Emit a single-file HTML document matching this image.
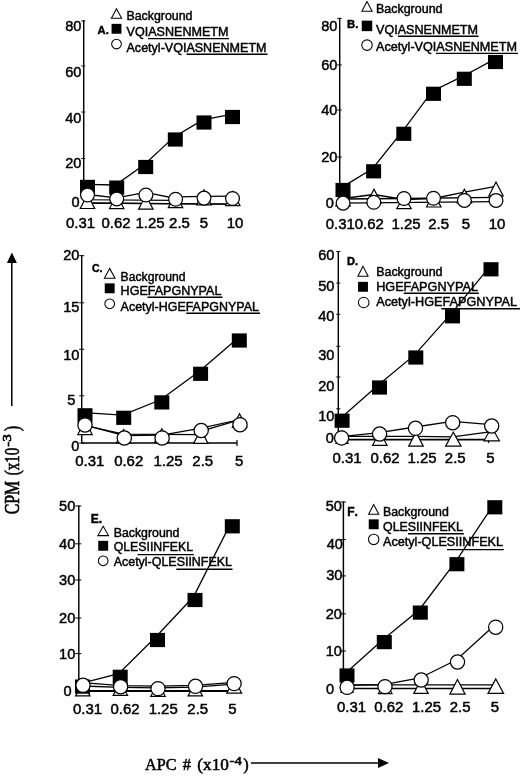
<!DOCTYPE html>
<html lang="en">
<head>
<meta charset="utf-8">
<title>Figure</title>
<style>
html,body{margin:0;padding:0;background:#fff;}
body{width:520px;height:776px;overflow:hidden;}
svg{display:block;filter:blur(0.35px);}
svg text{fill:#000;stroke:#000;stroke-width:0.45px;}
svg .sf text{stroke-width:0.5px;}
</style>
</head>
<body>
<svg width="520" height="776" viewBox="0 0 520 776">
<rect width="520" height="776" fill="#fff"/>
<line x1="83.70" y1="20.00" x2="83.70" y2="203.50" stroke="#000" stroke-width="1.45"/>
<line x1="83.70" y1="203.00" x2="232.50" y2="204.10" stroke="#000" stroke-width="1.40"/>
<polyline fill="none" stroke="#000" stroke-width="1.15" points="83.70,199.80 175.50,200.40"/>
<line x1="81.30" y1="21.00" x2="85.20" y2="21.00" stroke="#000" stroke-width="1.00"/>
<line x1="81.30" y1="66.00" x2="85.20" y2="66.00" stroke="#000" stroke-width="1.00"/>
<line x1="81.30" y1="112.00" x2="85.20" y2="112.00" stroke="#000" stroke-width="1.00"/>
<line x1="81.30" y1="158.50" x2="85.20" y2="158.50" stroke="#000" stroke-width="1.00"/>
<text x="81.50" y="30.80" font-size="14.30" text-anchor="end" font-weight="normal" font-family='"Liberation Sans", Arial, Helvetica, sans-serif' textLength="16.22" lengthAdjust="spacingAndGlyphs">80</text>
<text x="81.50" y="76.50" font-size="14.30" text-anchor="end" font-weight="normal" font-family='"Liberation Sans", Arial, Helvetica, sans-serif' textLength="16.22" lengthAdjust="spacingAndGlyphs">60</text>
<text x="81.50" y="122.50" font-size="14.30" text-anchor="end" font-weight="normal" font-family='"Liberation Sans", Arial, Helvetica, sans-serif' textLength="16.22" lengthAdjust="spacingAndGlyphs">40</text>
<text x="81.50" y="168.30" font-size="14.30" text-anchor="end" font-weight="normal" font-family='"Liberation Sans", Arial, Helvetica, sans-serif' textLength="16.22" lengthAdjust="spacingAndGlyphs">20</text>
<text x="79.60" y="206.60" font-size="14.30" text-anchor="end" font-weight="normal" font-family='"Liberation Sans", Arial, Helvetica, sans-serif' textLength="8.11" lengthAdjust="spacingAndGlyphs">0</text>
<text x="80.50" y="228.00" font-size="14.00" text-anchor="middle" font-weight="normal" font-family='"Liberation Sans", Arial, Helvetica, sans-serif' textLength="29.15" lengthAdjust="spacingAndGlyphs">0.31</text>
<text x="116.00" y="228.00" font-size="14.00" text-anchor="middle" font-weight="normal" font-family='"Liberation Sans", Arial, Helvetica, sans-serif' textLength="29.15" lengthAdjust="spacingAndGlyphs">0.62</text>
<text x="150.00" y="228.00" font-size="14.00" text-anchor="middle" font-weight="normal" font-family='"Liberation Sans", Arial, Helvetica, sans-serif' textLength="29.15" lengthAdjust="spacingAndGlyphs">1.25</text>
<text x="179.50" y="228.00" font-size="14.00" text-anchor="middle" font-weight="normal" font-family='"Liberation Sans", Arial, Helvetica, sans-serif' textLength="20.82" lengthAdjust="spacingAndGlyphs">2.5</text>
<text x="204.00" y="228.00" font-size="14.00" text-anchor="middle" font-weight="normal" font-family='"Liberation Sans", Arial, Helvetica, sans-serif' textLength="8.33" lengthAdjust="spacingAndGlyphs">5</text>
<text x="235.00" y="228.00" font-size="14.00" text-anchor="middle" font-weight="normal" font-family='"Liberation Sans", Arial, Helvetica, sans-serif' textLength="16.66" lengthAdjust="spacingAndGlyphs">10</text>
<polygon points="116.50,8.80 111.40,18.30 121.60,18.30" fill="#fff" stroke="#000" stroke-width="1.05" stroke-linejoin="miter"/>
<text x="126.50" y="20.30" font-size="12.40" text-anchor="start" font-weight="normal" font-family='"Liberation Sans", Arial, Helvetica, sans-serif' textLength="66.0" lengthAdjust="spacingAndGlyphs">Background</text>
<rect x="111.55" y="23.85" width="9.90" height="9.90" fill="#000"/>
<text x="126.50" y="35.50" font-size="12.40" text-anchor="start" font-weight="normal" font-family='"Liberation Sans", Arial, Helvetica, sans-serif' textLength="102.0" lengthAdjust="spacingAndGlyphs">VQIASNENMETM</text>
<line x1="148.00" y1="38.60" x2="229.00" y2="38.60" stroke="#000" stroke-width="1.40"/>
<circle cx="116.50" cy="44.00" r="4.85" fill="#fff" stroke="#000" stroke-width="1.05"/>
<text x="126.50" y="51.50" font-size="12.40" text-anchor="start" font-weight="normal" font-family='"Liberation Sans", Arial, Helvetica, sans-serif' textLength="140.0" lengthAdjust="spacingAndGlyphs">Acetyl-VQIASNENMETM</text>
<line x1="186.50" y1="54.20" x2="267.50" y2="54.20" stroke="#000" stroke-width="1.40"/>
<text x="97.60" y="33.50" font-size="11.20" text-anchor="start" font-weight="bold" font-family='"Liberation Sans", Arial, Helvetica, sans-serif' >A.</text>
<polyline fill="none" stroke="#000" stroke-width="1.28" points="87.50,203.10 232.50,204.10"/>
<polygon points="87.50,194.50 80.30,208.50 94.70,208.50" fill="#fff" stroke="#000" stroke-width="1.20" stroke-linejoin="miter"/>
<polygon points="116.70,194.50 109.50,208.60 123.90,208.60" fill="#fff" stroke="#000" stroke-width="1.20" stroke-linejoin="miter"/>
<polygon points="145.80,195.00 138.60,209.20 153.00,209.20" fill="#fff" stroke="#000" stroke-width="1.20" stroke-linejoin="miter"/>
<polygon points="175.50,193.50 168.30,207.70 182.70,207.70" fill="#fff" stroke="#000" stroke-width="1.20" stroke-linejoin="miter"/>
<polygon points="204.00,189.90 196.80,204.90 211.20,204.90" fill="#fff" stroke="#000" stroke-width="1.20" stroke-linejoin="miter"/>
<polygon points="232.80,191.50 225.60,205.60 240.00,205.60" fill="#fff" stroke="#000" stroke-width="1.20" stroke-linejoin="miter"/>
<polyline fill="none" stroke="#000" stroke-width="1.28" points="86.30,184.30 115.50,185.00 144.50,164.40 174.10,136.90 202.80,119.90 231.30,114.40"/>
<rect x="80.00" y="179.80" width="15.00" height="14.20" fill="#000"/>
<rect x="109.20" y="180.50" width="15.00" height="14.20" fill="#000"/>
<rect x="138.20" y="159.90" width="15.00" height="14.20" fill="#000"/>
<rect x="167.80" y="132.40" width="15.00" height="14.20" fill="#000"/>
<rect x="196.50" y="115.40" width="15.00" height="14.20" fill="#000"/>
<rect x="225.00" y="109.90" width="15.00" height="14.20" fill="#000"/>
<polyline fill="none" stroke="#000" stroke-width="1.28" points="87.50,194.50 116.70,197.90 145.70,192.30 175.50,198.50 177.00,196.80 204.00,196.30 232.50,196.20"/>
<circle cx="87.50" cy="195.00" r="6.90" fill="#fff" stroke="#000" stroke-width="1.25"/>
<circle cx="116.70" cy="198.90" r="6.90" fill="#fff" stroke="#000" stroke-width="1.25"/>
<circle cx="145.90" cy="195.00" r="6.90" fill="#fff" stroke="#000" stroke-width="1.25"/>
<circle cx="175.60" cy="199.20" r="6.90" fill="#fff" stroke="#000" stroke-width="1.25"/>
<circle cx="204.00" cy="198.10" r="6.90" fill="#fff" stroke="#000" stroke-width="1.25"/>
<circle cx="232.50" cy="198.50" r="6.90" fill="#fff" stroke="#000" stroke-width="1.25"/>
<line x1="339.70" y1="17.90" x2="339.70" y2="203.50" stroke="#000" stroke-width="1.45"/>
<line x1="339.70" y1="203.20" x2="495.50" y2="201.70" stroke="#000" stroke-width="1.30"/>
<line x1="337.20" y1="18.40" x2="341.70" y2="18.40" stroke="#000" stroke-width="1.00"/>
<line x1="337.20" y1="64.90" x2="341.70" y2="64.90" stroke="#000" stroke-width="1.00"/>
<line x1="337.20" y1="110.00" x2="341.70" y2="110.00" stroke="#000" stroke-width="1.00"/>
<line x1="337.20" y1="157.00" x2="341.70" y2="157.00" stroke="#000" stroke-width="1.00"/>
<text x="337.50" y="30.80" font-size="14.30" text-anchor="end" font-weight="normal" font-family='"Liberation Sans", Arial, Helvetica, sans-serif' textLength="16.22" lengthAdjust="spacingAndGlyphs">80</text>
<text x="337.50" y="69.80" font-size="14.30" text-anchor="end" font-weight="normal" font-family='"Liberation Sans", Arial, Helvetica, sans-serif' textLength="16.22" lengthAdjust="spacingAndGlyphs">60</text>
<text x="337.50" y="115.30" font-size="14.30" text-anchor="end" font-weight="normal" font-family='"Liberation Sans", Arial, Helvetica, sans-serif' textLength="16.22" lengthAdjust="spacingAndGlyphs">40</text>
<text x="337.50" y="162.00" font-size="14.30" text-anchor="end" font-weight="normal" font-family='"Liberation Sans", Arial, Helvetica, sans-serif' textLength="16.22" lengthAdjust="spacingAndGlyphs">20</text>
<text x="334.00" y="207.50" font-size="14.30" text-anchor="end" font-weight="normal" font-family='"Liberation Sans", Arial, Helvetica, sans-serif' textLength="8.11" lengthAdjust="spacingAndGlyphs">0</text>
<text x="340.30" y="228.70" font-size="14.00" text-anchor="middle" font-weight="normal" font-family='"Liberation Sans", Arial, Helvetica, sans-serif' textLength="29.15" lengthAdjust="spacingAndGlyphs">0.31</text>
<text x="369.30" y="228.70" font-size="14.00" text-anchor="middle" font-weight="normal" font-family='"Liberation Sans", Arial, Helvetica, sans-serif' textLength="29.15" lengthAdjust="spacingAndGlyphs">0.62</text>
<text x="406.00" y="228.70" font-size="14.00" text-anchor="middle" font-weight="normal" font-family='"Liberation Sans", Arial, Helvetica, sans-serif' textLength="29.15" lengthAdjust="spacingAndGlyphs">1.25</text>
<text x="438.70" y="228.70" font-size="14.00" text-anchor="middle" font-weight="normal" font-family='"Liberation Sans", Arial, Helvetica, sans-serif' textLength="20.82" lengthAdjust="spacingAndGlyphs">2.5</text>
<text x="466.00" y="228.70" font-size="14.00" text-anchor="middle" font-weight="normal" font-family='"Liberation Sans", Arial, Helvetica, sans-serif' textLength="8.33" lengthAdjust="spacingAndGlyphs">5</text>
<text x="497.00" y="228.70" font-size="14.00" text-anchor="middle" font-weight="normal" font-family='"Liberation Sans", Arial, Helvetica, sans-serif' textLength="16.66" lengthAdjust="spacingAndGlyphs">10</text>
<polygon points="367.00,1.60 361.90,11.30 372.10,11.30" fill="#fff" stroke="#000" stroke-width="1.05" stroke-linejoin="miter"/>
<text x="376.00" y="12.50" font-size="12.40" text-anchor="start" font-weight="normal" font-family='"Liberation Sans", Arial, Helvetica, sans-serif' textLength="66.5" lengthAdjust="spacingAndGlyphs">Background</text>
<rect x="361.75" y="20.65" width="10.50" height="10.50" fill="#000"/>
<text x="376.00" y="33.70" font-size="12.40" text-anchor="start" font-weight="normal" font-family='"Liberation Sans", Arial, Helvetica, sans-serif' textLength="102.0" lengthAdjust="spacingAndGlyphs">VQIASNENMETM</text>
<line x1="398.00" y1="36.30" x2="478.50" y2="36.30" stroke="#000" stroke-width="1.40"/>
<circle cx="367.00" cy="45.10" r="5.25" fill="#fff" stroke="#000" stroke-width="1.05"/>
<text x="376.00" y="50.80" font-size="12.40" text-anchor="start" font-weight="normal" font-family='"Liberation Sans", Arial, Helvetica, sans-serif' textLength="141.0" lengthAdjust="spacingAndGlyphs">Acetyl-VQIASNENMETM</text>
<line x1="436.00" y1="53.40" x2="518.00" y2="53.40" stroke="#000" stroke-width="1.40"/>
<text x="347.00" y="27.50" font-size="11.30" text-anchor="start" font-weight="bold" font-family='"Liberation Sans", Arial, Helvetica, sans-serif' >B.</text>
<polyline fill="none" stroke="#000" stroke-width="1.28" points="343.00,198.50 373.80,194.50 404.00,199.50 433.50,198.50 464.40,192.20 496.00,186.40"/>
<polygon points="343.00,193.00 335.80,206.00 350.20,206.00" fill="#fff" stroke="#000" stroke-width="1.20" stroke-linejoin="miter"/>
<polygon points="374.00,189.20 366.80,203.00 381.20,203.00" fill="#fff" stroke="#000" stroke-width="1.20" stroke-linejoin="miter"/>
<polygon points="404.00,195.50 396.80,208.70 411.20,208.70" fill="#fff" stroke="#000" stroke-width="1.20" stroke-linejoin="miter"/>
<polygon points="433.80,193.00 426.60,207.00 441.00,207.00" fill="#fff" stroke="#000" stroke-width="1.20" stroke-linejoin="miter"/>
<polygon points="464.40,189.20 457.20,203.00 471.60,203.00" fill="#fff" stroke="#000" stroke-width="1.20" stroke-linejoin="miter"/>
<polygon points="496.00,182.00 488.80,196.00 503.20,196.00" fill="#fff" stroke="#000" stroke-width="1.20" stroke-linejoin="miter"/>
<polyline fill="none" stroke="#000" stroke-width="1.28" points="341.80,187.40 372.40,168.70 402.60,131.20 432.30,91.20 463.10,76.20 494.30,59.40"/>
<rect x="335.50" y="182.90" width="15.00" height="14.20" fill="#000"/>
<rect x="366.10" y="164.20" width="15.00" height="14.20" fill="#000"/>
<rect x="396.30" y="126.70" width="15.00" height="14.20" fill="#000"/>
<rect x="426.00" y="86.70" width="15.00" height="14.20" fill="#000"/>
<rect x="456.80" y="71.70" width="15.00" height="14.20" fill="#000"/>
<rect x="488.00" y="54.90" width="15.00" height="14.20" fill="#000"/>
<polyline fill="none" stroke="#000" stroke-width="1.28" points="343.00,199.00 404.00,198.50 496.00,197.30"/>
<circle cx="343.10" cy="203.10" r="6.90" fill="#fff" stroke="#000" stroke-width="1.25"/>
<circle cx="373.80" cy="202.30" r="6.90" fill="#fff" stroke="#000" stroke-width="1.25"/>
<circle cx="404.00" cy="198.50" r="6.90" fill="#fff" stroke="#000" stroke-width="1.25"/>
<circle cx="433.50" cy="198.30" r="6.90" fill="#fff" stroke="#000" stroke-width="1.25"/>
<circle cx="464.40" cy="200.40" r="6.90" fill="#fff" stroke="#000" stroke-width="1.25"/>
<circle cx="496.00" cy="200.40" r="6.90" fill="#fff" stroke="#000" stroke-width="1.25"/>
<line x1="81.70" y1="255.20" x2="81.70" y2="443.60" stroke="#000" stroke-width="1.45"/>
<line x1="81.70" y1="443.00" x2="237.00" y2="443.00" stroke="#000" stroke-width="1.50"/>
<line x1="237.00" y1="440.00" x2="237.00" y2="446.00" stroke="#000" stroke-width="1.20"/>
<line x1="79.20" y1="255.70" x2="84.20" y2="255.70" stroke="#000" stroke-width="1.00"/>
<line x1="79.20" y1="302.80" x2="84.20" y2="302.80" stroke="#000" stroke-width="1.00"/>
<line x1="79.20" y1="349.30" x2="84.20" y2="349.30" stroke="#000" stroke-width="1.00"/>
<line x1="79.20" y1="395.80" x2="84.20" y2="395.80" stroke="#000" stroke-width="1.00"/>
<line x1="79.20" y1="443.00" x2="84.20" y2="443.00" stroke="#000" stroke-width="1.00"/>
<text x="79.50" y="259.90" font-size="14.30" text-anchor="end" font-weight="normal" font-family='"Liberation Sans", Arial, Helvetica, sans-serif' textLength="16.22" lengthAdjust="spacingAndGlyphs">20</text>
<text x="79.50" y="312.30" font-size="14.30" text-anchor="end" font-weight="normal" font-family='"Liberation Sans", Arial, Helvetica, sans-serif' textLength="16.22" lengthAdjust="spacingAndGlyphs">15</text>
<text x="79.50" y="360.20" font-size="14.30" text-anchor="end" font-weight="normal" font-family='"Liberation Sans", Arial, Helvetica, sans-serif' textLength="16.22" lengthAdjust="spacingAndGlyphs">10</text>
<text x="75.30" y="405.00" font-size="14.30" text-anchor="end" font-weight="normal" font-family='"Liberation Sans", Arial, Helvetica, sans-serif' textLength="8.11" lengthAdjust="spacingAndGlyphs">5</text>
<text x="79.50" y="450.50" font-size="14.30" text-anchor="end" font-weight="normal" font-family='"Liberation Sans", Arial, Helvetica, sans-serif' textLength="8.11" lengthAdjust="spacingAndGlyphs">0</text>
<text x="89.80" y="466.20" font-size="14.00" text-anchor="middle" font-weight="normal" font-family='"Liberation Sans", Arial, Helvetica, sans-serif' textLength="29.15" lengthAdjust="spacingAndGlyphs">0.31</text>
<text x="128.70" y="466.20" font-size="14.00" text-anchor="middle" font-weight="normal" font-family='"Liberation Sans", Arial, Helvetica, sans-serif' textLength="29.15" lengthAdjust="spacingAndGlyphs">0.62</text>
<text x="168.00" y="466.20" font-size="14.00" text-anchor="middle" font-weight="normal" font-family='"Liberation Sans", Arial, Helvetica, sans-serif' textLength="29.15" lengthAdjust="spacingAndGlyphs">1.25</text>
<text x="202.80" y="466.20" font-size="14.00" text-anchor="middle" font-weight="normal" font-family='"Liberation Sans", Arial, Helvetica, sans-serif' textLength="20.82" lengthAdjust="spacingAndGlyphs">2.5</text>
<text x="239.30" y="466.20" font-size="14.00" text-anchor="middle" font-weight="normal" font-family='"Liberation Sans", Arial, Helvetica, sans-serif' textLength="8.33" lengthAdjust="spacingAndGlyphs">5</text>
<polygon points="109.70,268.40 104.40,278.30 115.00,278.30" fill="#fff" stroke="#000" stroke-width="1.05" stroke-linejoin="miter"/>
<text x="120.60" y="280.50" font-size="12.30" text-anchor="start" font-weight="normal" font-family='"Liberation Sans", Arial, Helvetica, sans-serif' textLength="65.0" lengthAdjust="spacingAndGlyphs">Background</text>
<rect x="104.75" y="283.35" width="9.90" height="9.90" fill="#000"/>
<text x="120.60" y="295.00" font-size="12.30" text-anchor="start" font-weight="normal" font-family='"Liberation Sans", Arial, Helvetica, sans-serif' textLength="100.8" lengthAdjust="spacingAndGlyphs">HGEFAPGNYPAL</text>
<line x1="147.50" y1="297.20" x2="222.50" y2="297.20" stroke="#000" stroke-width="1.40"/>
<circle cx="109.70" cy="303.80" r="4.85" fill="#fff" stroke="#000" stroke-width="1.05"/>
<text x="120.60" y="310.50" font-size="12.30" text-anchor="start" font-weight="normal" font-family='"Liberation Sans", Arial, Helvetica, sans-serif' textLength="138.3" lengthAdjust="spacingAndGlyphs">Acetyl-HGEFAPGNYPAL</text>
<line x1="186.30" y1="313.20" x2="260.00" y2="313.20" stroke="#000" stroke-width="1.40"/>
<text x="92.00" y="271.80" font-size="10.50" text-anchor="start" font-weight="bold" font-family='"Liberation Sans", Arial, Helvetica, sans-serif' >C.</text>
<polyline fill="none" stroke="#000" stroke-width="1.28" points="85.00,425.50 123.70,434.20 161.80,434.40 197.00,434.60 200.60,431.40 239.30,419.90"/>
<polygon points="85.00,420.50 77.80,434.60 92.20,434.60" fill="#fff" stroke="#000" stroke-width="1.20" stroke-linejoin="miter"/>
<polygon points="123.70,429.50 116.50,443.00 130.90,443.00" fill="#fff" stroke="#000" stroke-width="1.20" stroke-linejoin="miter"/>
<polygon points="161.80,428.80 154.60,442.50 169.00,442.50" fill="#fff" stroke="#000" stroke-width="1.20" stroke-linejoin="miter"/>
<polygon points="200.80,429.50 193.60,443.40 208.00,443.40" fill="#fff" stroke="#000" stroke-width="1.20" stroke-linejoin="miter"/>
<polygon points="239.50,413.70 232.30,427.50 246.70,427.50" fill="#fff" stroke="#000" stroke-width="1.20" stroke-linejoin="miter"/>
<polyline fill="none" stroke="#000" stroke-width="1.28" points="83.80,412.70 122.50,415.20 160.60,399.80 199.40,371.20 238.10,337.90"/>
<rect x="77.50" y="408.20" width="15.00" height="14.20" fill="#000"/>
<rect x="116.20" y="410.70" width="15.00" height="14.20" fill="#000"/>
<rect x="154.30" y="395.30" width="15.00" height="14.20" fill="#000"/>
<rect x="193.10" y="366.70" width="15.00" height="14.20" fill="#000"/>
<rect x="231.80" y="333.40" width="15.00" height="14.20" fill="#000"/>
<polyline fill="none" stroke="#000" stroke-width="1.28" points="85.00,425.10 124.30,435.50 161.80,435.20 201.20,428.20 240.00,419.50"/>
<circle cx="85.00" cy="424.90" r="7.15" fill="#fff" stroke="#000" stroke-width="1.25"/>
<circle cx="124.30" cy="438.00" r="7.15" fill="#fff" stroke="#000" stroke-width="1.25"/>
<circle cx="162.10" cy="437.90" r="7.15" fill="#fff" stroke="#000" stroke-width="1.25"/>
<circle cx="201.20" cy="430.50" r="7.15" fill="#fff" stroke="#000" stroke-width="1.25"/>
<circle cx="240.00" cy="424.70" r="7.15" fill="#fff" stroke="#000" stroke-width="1.25"/>
<line x1="338.30" y1="251.00" x2="338.30" y2="440.00" stroke="#000" stroke-width="1.45"/>
<line x1="338.30" y1="439.60" x2="488.50" y2="439.60" stroke="#000" stroke-width="1.70"/>
<line x1="488.50" y1="439.10" x2="488.50" y2="443.10" stroke="#000" stroke-width="1.20"/>
<line x1="336.30" y1="251.50" x2="340.30" y2="251.50" stroke="#000" stroke-width="1.00"/>
<line x1="336.30" y1="283.10" x2="340.30" y2="283.10" stroke="#000" stroke-width="1.00"/>
<line x1="336.30" y1="314.30" x2="340.30" y2="314.30" stroke="#000" stroke-width="1.00"/>
<line x1="336.30" y1="346.30" x2="340.30" y2="346.30" stroke="#000" stroke-width="1.00"/>
<line x1="336.30" y1="377.00" x2="340.30" y2="377.00" stroke="#000" stroke-width="1.00"/>
<line x1="336.30" y1="408.80" x2="340.30" y2="408.80" stroke="#000" stroke-width="1.00"/>
<text x="334.50" y="260.30" font-size="14.30" text-anchor="end" font-weight="normal" font-family='"Liberation Sans", Arial, Helvetica, sans-serif' textLength="16.22" lengthAdjust="spacingAndGlyphs">60</text>
<text x="334.50" y="290.60" font-size="14.30" text-anchor="end" font-weight="normal" font-family='"Liberation Sans", Arial, Helvetica, sans-serif' textLength="16.22" lengthAdjust="spacingAndGlyphs">50</text>
<text x="334.50" y="321.00" font-size="14.30" text-anchor="end" font-weight="normal" font-family='"Liberation Sans", Arial, Helvetica, sans-serif' textLength="16.22" lengthAdjust="spacingAndGlyphs">40</text>
<text x="334.50" y="360.20" font-size="14.30" text-anchor="end" font-weight="normal" font-family='"Liberation Sans", Arial, Helvetica, sans-serif' textLength="16.22" lengthAdjust="spacingAndGlyphs">30</text>
<text x="334.50" y="391.30" font-size="14.30" text-anchor="end" font-weight="normal" font-family='"Liberation Sans", Arial, Helvetica, sans-serif' textLength="16.22" lengthAdjust="spacingAndGlyphs">20</text>
<text x="334.50" y="420.50" font-size="14.30" text-anchor="end" font-weight="normal" font-family='"Liberation Sans", Arial, Helvetica, sans-serif' textLength="16.22" lengthAdjust="spacingAndGlyphs">10</text>
<text x="334.00" y="443.00" font-size="14.30" text-anchor="end" font-weight="normal" font-family='"Liberation Sans", Arial, Helvetica, sans-serif' textLength="8.11" lengthAdjust="spacingAndGlyphs">0</text>
<text x="347.00" y="463.00" font-size="14.00" text-anchor="middle" font-weight="normal" font-family='"Liberation Sans", Arial, Helvetica, sans-serif' textLength="29.15" lengthAdjust="spacingAndGlyphs">0.31</text>
<text x="385.00" y="463.00" font-size="14.00" text-anchor="middle" font-weight="normal" font-family='"Liberation Sans", Arial, Helvetica, sans-serif' textLength="29.15" lengthAdjust="spacingAndGlyphs">0.62</text>
<text x="422.00" y="463.00" font-size="14.00" text-anchor="middle" font-weight="normal" font-family='"Liberation Sans", Arial, Helvetica, sans-serif' textLength="29.15" lengthAdjust="spacingAndGlyphs">1.25</text>
<text x="455.30" y="463.00" font-size="14.00" text-anchor="middle" font-weight="normal" font-family='"Liberation Sans", Arial, Helvetica, sans-serif' textLength="20.82" lengthAdjust="spacingAndGlyphs">2.5</text>
<text x="490.50" y="463.00" font-size="14.00" text-anchor="middle" font-weight="normal" font-family='"Liberation Sans", Arial, Helvetica, sans-serif' textLength="8.33" lengthAdjust="spacingAndGlyphs">5</text>
<polygon points="363.00,266.30 357.90,276.30 368.10,276.30" fill="#fff" stroke="#000" stroke-width="1.05" stroke-linejoin="miter"/>
<text x="376.20" y="275.50" font-size="12.30" text-anchor="start" font-weight="normal" font-family='"Liberation Sans", Arial, Helvetica, sans-serif' textLength="66.3" lengthAdjust="spacingAndGlyphs">Background</text>
<rect x="358.05" y="281.85" width="9.90" height="9.90" fill="#000"/>
<text x="376.20" y="290.50" font-size="12.30" text-anchor="start" font-weight="normal" font-family='"Liberation Sans", Arial, Helvetica, sans-serif' textLength="101.8" lengthAdjust="spacingAndGlyphs">HGEFAPGNYPAL</text>
<line x1="403.80" y1="293.30" x2="478.80" y2="293.30" stroke="#000" stroke-width="1.40"/>
<circle cx="363.70" cy="302.50" r="5.30" fill="#fff" stroke="#000" stroke-width="1.05"/>
<text x="376.20" y="305.50" font-size="12.30" text-anchor="start" font-weight="normal" font-family='"Liberation Sans", Arial, Helvetica, sans-serif' textLength="140.8" lengthAdjust="spacingAndGlyphs">Acetyl-HGEFAPGNYPAL</text>
<line x1="441.30" y1="308.70" x2="520.00" y2="308.70" stroke="#000" stroke-width="1.40"/>
<text x="347.00" y="264.50" font-size="11.00" text-anchor="start" font-weight="bold" font-family='"Liberation Sans", Arial, Helvetica, sans-serif' >D.</text>
<polyline fill="none" stroke="#000" stroke-width="1.28" points="342.00,436.30 379.50,436.30 415.80,436.30 452.70,436.80 491.70,431.70"/>
<polygon points="342.00,431.00 336.00,443.50 348.00,443.50" fill="#fff" stroke="#000" stroke-width="1.20" stroke-linejoin="miter"/>
<polygon points="379.80,431.50 372.60,445.30 387.00,445.30" fill="#fff" stroke="#000" stroke-width="1.20" stroke-linejoin="miter"/>
<polygon points="416.00,432.30 408.70,446.20 423.30,446.20" fill="#fff" stroke="#000" stroke-width="1.20" stroke-linejoin="miter"/>
<polygon points="453.30,432.30 445.60,446.20 461.00,446.20" fill="#fff" stroke="#000" stroke-width="1.20" stroke-linejoin="miter"/>
<polygon points="491.70,427.00 484.00,440.80 499.40,440.80" fill="#fff" stroke="#000" stroke-width="1.20" stroke-linejoin="miter"/>
<polyline fill="none" stroke="#000" stroke-width="1.28" points="340.90,418.10 378.30,384.90 414.60,354.90 451.30,313.70 489.80,266.70"/>
<rect x="334.60" y="413.60" width="15.00" height="14.20" fill="#000"/>
<rect x="372.00" y="380.40" width="15.00" height="14.20" fill="#000"/>
<rect x="408.30" y="350.40" width="15.00" height="14.20" fill="#000"/>
<rect x="445.00" y="309.20" width="15.00" height="14.20" fill="#000"/>
<rect x="483.50" y="262.20" width="15.00" height="14.20" fill="#000"/>
<polyline fill="none" stroke="#000" stroke-width="1.28" points="341.20,436.60 379.20,432.70 415.10,427.00 452.30,421.40 491.30,424.70"/>
<circle cx="341.60" cy="437.90" r="7.10" fill="#fff" stroke="#000" stroke-width="1.25"/>
<circle cx="379.60" cy="434.00" r="7.10" fill="#fff" stroke="#000" stroke-width="1.25"/>
<circle cx="415.50" cy="428.30" r="7.10" fill="#fff" stroke="#000" stroke-width="1.25"/>
<circle cx="452.70" cy="422.70" r="7.10" fill="#fff" stroke="#000" stroke-width="1.25"/>
<circle cx="491.70" cy="426.00" r="7.10" fill="#fff" stroke="#000" stroke-width="1.25"/>
<line x1="78.80" y1="505.50" x2="78.80" y2="691.60" stroke="#000" stroke-width="1.45"/>
<line x1="78.80" y1="691.00" x2="233.00" y2="691.00" stroke="#000" stroke-width="1.80"/>
<line x1="75.20" y1="506.00" x2="81.30" y2="506.00" stroke="#000" stroke-width="1.00"/>
<line x1="75.20" y1="543.80" x2="81.30" y2="543.80" stroke="#000" stroke-width="1.00"/>
<line x1="75.20" y1="580.00" x2="81.30" y2="580.00" stroke="#000" stroke-width="1.00"/>
<line x1="75.20" y1="618.00" x2="81.30" y2="618.00" stroke="#000" stroke-width="1.00"/>
<line x1="75.20" y1="653.60" x2="81.30" y2="653.60" stroke="#000" stroke-width="1.00"/>
<text x="75.30" y="511.30" font-size="14.30" text-anchor="end" font-weight="normal" font-family='"Liberation Sans", Arial, Helvetica, sans-serif' textLength="16.22" lengthAdjust="spacingAndGlyphs">50</text>
<text x="75.30" y="548.80" font-size="14.30" text-anchor="end" font-weight="normal" font-family='"Liberation Sans", Arial, Helvetica, sans-serif' textLength="16.22" lengthAdjust="spacingAndGlyphs">40</text>
<text x="75.30" y="585.00" font-size="14.30" text-anchor="end" font-weight="normal" font-family='"Liberation Sans", Arial, Helvetica, sans-serif' textLength="16.22" lengthAdjust="spacingAndGlyphs">30</text>
<text x="75.30" y="623.00" font-size="14.30" text-anchor="end" font-weight="normal" font-family='"Liberation Sans", Arial, Helvetica, sans-serif' textLength="16.22" lengthAdjust="spacingAndGlyphs">20</text>
<text x="75.30" y="658.80" font-size="14.30" text-anchor="end" font-weight="normal" font-family='"Liberation Sans", Arial, Helvetica, sans-serif' textLength="16.22" lengthAdjust="spacingAndGlyphs">10</text>
<text x="71.60" y="695.50" font-size="14.30" text-anchor="end" font-weight="normal" font-family='"Liberation Sans", Arial, Helvetica, sans-serif' textLength="8.11" lengthAdjust="spacingAndGlyphs">0</text>
<text x="87.50" y="713.70" font-size="14.00" text-anchor="middle" font-weight="normal" font-family='"Liberation Sans", Arial, Helvetica, sans-serif' textLength="29.15" lengthAdjust="spacingAndGlyphs">0.31</text>
<text x="125.00" y="713.70" font-size="14.00" text-anchor="middle" font-weight="normal" font-family='"Liberation Sans", Arial, Helvetica, sans-serif' textLength="29.15" lengthAdjust="spacingAndGlyphs">0.62</text>
<text x="163.20" y="713.70" font-size="14.00" text-anchor="middle" font-weight="normal" font-family='"Liberation Sans", Arial, Helvetica, sans-serif' textLength="29.15" lengthAdjust="spacingAndGlyphs">1.25</text>
<text x="197.80" y="713.70" font-size="14.00" text-anchor="middle" font-weight="normal" font-family='"Liberation Sans", Arial, Helvetica, sans-serif' textLength="20.82" lengthAdjust="spacingAndGlyphs">2.5</text>
<text x="232.50" y="713.70" font-size="14.00" text-anchor="middle" font-weight="normal" font-family='"Liberation Sans", Arial, Helvetica, sans-serif' textLength="8.33" lengthAdjust="spacingAndGlyphs">5</text>
<polygon points="103.20,526.30 97.80,535.60 108.60,535.60" fill="#fff" stroke="#000" stroke-width="1.05" stroke-linejoin="miter"/>
<text x="113.70" y="537.00" font-size="12.30" text-anchor="start" font-weight="normal" font-family='"Liberation Sans", Arial, Helvetica, sans-serif' textLength="65.8" lengthAdjust="spacingAndGlyphs">Background</text>
<rect x="98.25" y="540.85" width="9.90" height="9.90" fill="#000"/>
<text x="113.70" y="551.30" font-size="12.30" text-anchor="start" font-weight="normal" font-family='"Liberation Sans", Arial, Helvetica, sans-serif' textLength="79.3" lengthAdjust="spacingAndGlyphs">QLESIINFEKL</text>
<line x1="137.50" y1="554.60" x2="193.80" y2="554.60" stroke="#000" stroke-width="1.40"/>
<circle cx="103.20" cy="560.80" r="4.85" fill="#fff" stroke="#000" stroke-width="1.05"/>
<text x="113.70" y="566.30" font-size="12.30" text-anchor="start" font-weight="normal" font-family='"Liberation Sans", Arial, Helvetica, sans-serif' textLength="118.3" lengthAdjust="spacingAndGlyphs">Acetyl-QLESIINFEKL</text>
<line x1="176.30" y1="569.30" x2="232.50" y2="569.30" stroke="#000" stroke-width="1.40"/>
<text x="90.80" y="522.70" font-size="12.00" text-anchor="start" font-weight="bold" font-family='"Liberation Sans", Arial, Helvetica, sans-serif' >E.</text>
<polyline fill="none" stroke="#000" stroke-width="1.28" points="82.50,686.00 120.60,687.30 158.00,687.90 195.00,687.20 233.00,684.20"/>
<polygon points="82.80,682.00 75.60,695.90 90.00,695.90" fill="#fff" stroke="#000" stroke-width="1.20" stroke-linejoin="miter"/>
<polygon points="120.40,682.00 113.20,695.30 127.60,695.30" fill="#fff" stroke="#000" stroke-width="1.20" stroke-linejoin="miter"/>
<polygon points="158.00,682.00 150.80,696.30 165.20,696.30" fill="#fff" stroke="#000" stroke-width="1.20" stroke-linejoin="miter"/>
<polygon points="195.30,682.50 188.10,695.90 202.50,695.90" fill="#fff" stroke="#000" stroke-width="1.20" stroke-linejoin="miter"/>
<polygon points="234.20,679.20 226.80,693.20 241.60,693.20" fill="#fff" stroke="#000" stroke-width="1.20" stroke-linejoin="miter"/>
<polyline fill="none" stroke="#000" stroke-width="1.28" points="81.00,683.40 118.70,673.60 156.00,636.80 193.50,596.80 230.80,523.10"/>
<rect x="75.00" y="679.50" width="15.00" height="14.20" fill="#000"/>
<rect x="112.70" y="669.70" width="15.00" height="14.20" fill="#000"/>
<rect x="150.00" y="632.90" width="15.00" height="14.20" fill="#000"/>
<rect x="187.50" y="592.90" width="15.00" height="14.20" fill="#000"/>
<rect x="224.80" y="519.20" width="15.00" height="14.20" fill="#000"/>
<polyline fill="none" stroke="#000" stroke-width="1.28" points="82.50,682.70 120.60,685.60 158.00,686.10 195.00,685.30 233.70,682.30"/>
<circle cx="83.00" cy="685.30" r="7.10" fill="#fff" stroke="#000" stroke-width="1.25"/>
<circle cx="120.60" cy="686.70" r="7.10" fill="#fff" stroke="#000" stroke-width="1.25"/>
<circle cx="158.00" cy="688.60" r="7.10" fill="#fff" stroke="#000" stroke-width="1.25"/>
<circle cx="195.50" cy="686.30" r="7.10" fill="#fff" stroke="#000" stroke-width="1.25"/>
<circle cx="234.10" cy="683.60" r="7.10" fill="#fff" stroke="#000" stroke-width="1.25"/>
<line x1="343.40" y1="501.50" x2="343.40" y2="688.80" stroke="#000" stroke-width="1.45"/>
<line x1="343.40" y1="688.50" x2="496.00" y2="688.50" stroke="#000" stroke-width="1.30"/>
<line x1="340.90" y1="502.00" x2="345.90" y2="502.00" stroke="#000" stroke-width="1.00"/>
<line x1="340.90" y1="539.60" x2="345.90" y2="539.60" stroke="#000" stroke-width="1.00"/>
<line x1="340.90" y1="575.90" x2="345.90" y2="575.90" stroke="#000" stroke-width="1.00"/>
<line x1="340.90" y1="613.80" x2="345.90" y2="613.80" stroke="#000" stroke-width="1.00"/>
<line x1="340.90" y1="651.00" x2="345.90" y2="651.00" stroke="#000" stroke-width="1.00"/>
<text x="342.00" y="511.00" font-size="14.30" text-anchor="end" font-weight="normal" font-family='"Liberation Sans", Arial, Helvetica, sans-serif' textLength="16.22" lengthAdjust="spacingAndGlyphs">50</text>
<text x="343.00" y="549.20" font-size="14.30" text-anchor="end" font-weight="normal" font-family='"Liberation Sans", Arial, Helvetica, sans-serif' textLength="16.22" lengthAdjust="spacingAndGlyphs">40</text>
<text x="342.50" y="580.10" font-size="14.30" text-anchor="end" font-weight="normal" font-family='"Liberation Sans", Arial, Helvetica, sans-serif' textLength="16.22" lengthAdjust="spacingAndGlyphs">30</text>
<text x="342.00" y="618.80" font-size="14.30" text-anchor="end" font-weight="normal" font-family='"Liberation Sans", Arial, Helvetica, sans-serif' textLength="16.22" lengthAdjust="spacingAndGlyphs">20</text>
<text x="342.00" y="656.30" font-size="14.30" text-anchor="end" font-weight="normal" font-family='"Liberation Sans", Arial, Helvetica, sans-serif' textLength="16.22" lengthAdjust="spacingAndGlyphs">10</text>
<text x="334.20" y="694.00" font-size="14.30" text-anchor="end" font-weight="normal" font-family='"Liberation Sans", Arial, Helvetica, sans-serif' textLength="8.11" lengthAdjust="spacingAndGlyphs">0</text>
<text x="351.50" y="712.00" font-size="14.00" text-anchor="middle" font-weight="normal" font-family='"Liberation Sans", Arial, Helvetica, sans-serif' textLength="29.15" lengthAdjust="spacingAndGlyphs">0.31</text>
<text x="388.80" y="712.00" font-size="14.00" text-anchor="middle" font-weight="normal" font-family='"Liberation Sans", Arial, Helvetica, sans-serif' textLength="29.15" lengthAdjust="spacingAndGlyphs">0.62</text>
<text x="426.60" y="712.00" font-size="14.00" text-anchor="middle" font-weight="normal" font-family='"Liberation Sans", Arial, Helvetica, sans-serif' textLength="29.15" lengthAdjust="spacingAndGlyphs">1.25</text>
<text x="460.20" y="712.00" font-size="14.00" text-anchor="middle" font-weight="normal" font-family='"Liberation Sans", Arial, Helvetica, sans-serif' textLength="20.82" lengthAdjust="spacingAndGlyphs">2.5</text>
<text x="495.00" y="712.00" font-size="14.00" text-anchor="middle" font-weight="normal" font-family='"Liberation Sans", Arial, Helvetica, sans-serif' textLength="8.33" lengthAdjust="spacingAndGlyphs">5</text>
<polygon points="373.70,504.60 368.60,514.20 378.80,514.20" fill="#fff" stroke="#000" stroke-width="1.05" stroke-linejoin="miter"/>
<text x="383.00" y="516.30" font-size="12.30" text-anchor="start" font-weight="normal" font-family='"Liberation Sans", Arial, Helvetica, sans-serif' textLength="65.8" lengthAdjust="spacingAndGlyphs">Background</text>
<rect x="368.75" y="519.35" width="9.90" height="9.90" fill="#000"/>
<text x="383.00" y="530.80" font-size="12.30" text-anchor="start" font-weight="normal" font-family='"Liberation Sans", Arial, Helvetica, sans-serif' textLength="80.0" lengthAdjust="spacingAndGlyphs">QLESIINFEKL</text>
<line x1="408.00" y1="533.80" x2="463.80" y2="533.80" stroke="#000" stroke-width="1.40"/>
<circle cx="373.70" cy="539.40" r="5.20" fill="#fff" stroke="#000" stroke-width="1.05"/>
<text x="383.00" y="546.30" font-size="12.30" text-anchor="start" font-weight="normal" font-family='"Liberation Sans", Arial, Helvetica, sans-serif' textLength="120.0" lengthAdjust="spacingAndGlyphs">Acetyl-QLESIINFEKL</text>
<line x1="447.00" y1="549.60" x2="503.80" y2="549.60" stroke="#000" stroke-width="1.40"/>
<text x="347.20" y="516.00" font-size="12.00" text-anchor="start" font-weight="bold" font-family='"Liberation Sans", Arial, Helvetica, sans-serif' letter-spacing="1.2">F.</text>
<polyline fill="none" stroke="#000" stroke-width="1.28" points="347.00,684.80 384.30,684.80 420.30,684.80 457.20,684.80 496.00,684.80"/>
<polygon points="347.00,679.50 341.00,692.50 353.00,692.50" fill="#fff" stroke="#000" stroke-width="1.20" stroke-linejoin="miter"/>
<polygon points="385.20,680.00 378.40,693.60 392.00,693.60" fill="#fff" stroke="#000" stroke-width="1.20" stroke-linejoin="miter"/>
<polygon points="421.00,679.50 413.80,693.40 428.20,693.40" fill="#fff" stroke="#000" stroke-width="1.20" stroke-linejoin="miter"/>
<polygon points="457.50,679.50 449.90,694.20 465.10,694.20" fill="#fff" stroke="#000" stroke-width="1.20" stroke-linejoin="miter"/>
<polygon points="495.80,678.90 488.00,693.40 503.60,693.40" fill="#fff" stroke="#000" stroke-width="1.20" stroke-linejoin="miter"/>
<polyline fill="none" stroke="#000" stroke-width="1.28" points="345.80,672.90 383.10,639.50 419.10,610.00 455.70,561.60 493.60,504.70"/>
<rect x="339.50" y="668.40" width="15.00" height="14.20" fill="#000"/>
<rect x="376.80" y="635.00" width="15.00" height="14.20" fill="#000"/>
<rect x="412.80" y="605.50" width="15.00" height="14.20" fill="#000"/>
<rect x="449.40" y="557.10" width="15.00" height="14.20" fill="#000"/>
<rect x="487.30" y="500.20" width="15.00" height="14.20" fill="#000"/>
<polyline fill="none" stroke="#000" stroke-width="1.28" points="345.90,685.30 383.80,684.60 420.00,678.00 456.30,660.00 494.50,625.20"/>
<circle cx="347.10" cy="687.30" r="7.10" fill="#fff" stroke="#000" stroke-width="1.25"/>
<circle cx="385.00" cy="686.60" r="7.10" fill="#fff" stroke="#000" stroke-width="1.25"/>
<circle cx="421.20" cy="680.00" r="7.10" fill="#fff" stroke="#000" stroke-width="1.25"/>
<circle cx="457.50" cy="662.00" r="7.10" fill="#fff" stroke="#000" stroke-width="1.25"/>
<circle cx="495.70" cy="627.20" r="7.10" fill="#fff" stroke="#000" stroke-width="1.25"/>
<g transform="translate(19.2,514.3) rotate(-90) scale(1,1.3)" font-family='"Liberation Serif", "Times New Roman", serif' font-size="15.5" class="sf">
<text x="0" y="0" textLength="33.3" lengthAdjust="spacingAndGlyphs">CPM</text>
<text x="39" y="0" textLength="27.6" lengthAdjust="spacingAndGlyphs">(x10</text>
<text x="67.6" y="-6" font-size="10" textLength="12.6" lengthAdjust="spacingAndGlyphs">-3</text>
<text x="83.4" y="0">)</text>
</g>
<line x1="11.80" y1="406.00" x2="11.80" y2="262.00" stroke="#000" stroke-width="1.50"/>
<polygon points="11.9,252.5 6.9,263 16.9,263" fill="#000"/>
<g class="sf" font-family='"Liberation Serif", "Times New Roman", serif' font-size="16.3">
<text x="145.1" y="770" textLength="31.4" lengthAdjust="spacingAndGlyphs">APC</text>
<text x="182.7" y="770">#</text>
<text x="197.3" y="770" textLength="31.6" lengthAdjust="spacingAndGlyphs">(x10</text>
<text x="229.6" y="765.2" font-size="12" textLength="12.2" lengthAdjust="spacingAndGlyphs">-4</text>
<text x="243.3" y="770">)</text>
</g>
<line x1="251.00" y1="763.00" x2="379.00" y2="763.00" stroke="#000" stroke-width="1.50"/>
<polygon points="389,763 378,758 378,768" fill="#000"/>
</svg>
</body>
</html>
